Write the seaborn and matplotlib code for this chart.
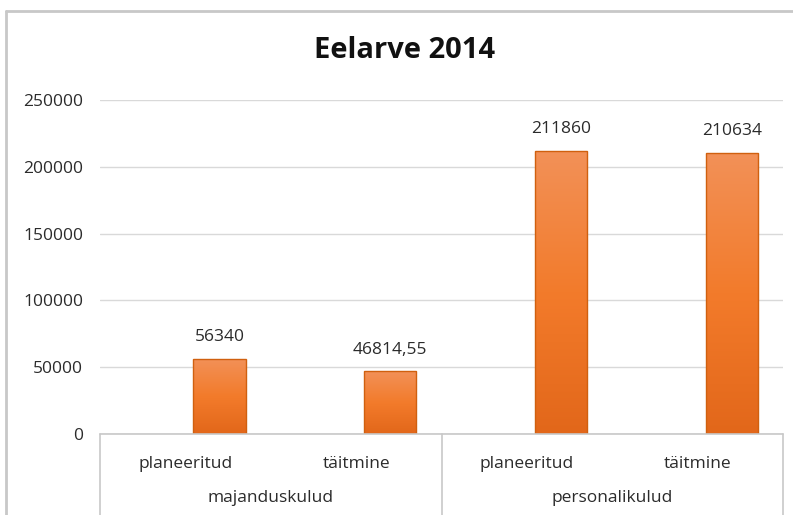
import numpy as np
import pandas as pd
import seaborn as sns
import matplotlib.pyplot as plt
from matplotlib.colors import LinearSegmentedColormap

# andmed
groups = ['majanduskulud', 'majanduskulud', 'personalikulud', 'personalikulud']
items = ['planeeritud', 'täitmine', 'planeeritud', 'täitmine']
values = [56340, 46814.55, 211860, 210634]
group_names = ['majanduskulud', 'personalikulud']

df = pd.DataFrame({'grupp': groups, 'liik': items, 'summa': values})
df['kat'] = df['grupp'] + '|' + df['liik']

sns.set_theme(style='white')
plt.rcParams['font.family'] = ['Open Sans', 'DejaVu Sans']
txt = '#2b2b2b'
grid = '#d9d9d9'

fig = plt.figure(figsize=(7.93, 5.15), dpi=100)
ax = fig.add_axes([100 / 793, 81 / 515, 683 / 793, 334 / 515])

sns.barplot(data=df, x='kat', y='summa', ax=ax, width=0.305,
            color='#f07a2a', edgecolor='#d0600f', linewidth=1.0,
            errorbar=None, zorder=3)

# tulbad veidi paremale nagu Exceli originaalis
for p in ax.patches:
    p.set_x(p.get_x() + 0.2)

# gradient tulpadele
cmap = LinearSegmentedColormap.from_list('or', ['#e2671a', '#f37b2b', '#f29158'])
grad = np.linspace(0, 1, 256).reshape(-1, 1)
for p in ax.patches:
    x0, y0 = p.get_x(), p.get_y()
    im = ax.imshow(grad, cmap=cmap, origin='lower', aspect='auto',
                   extent=[x0, x0 + p.get_width(), y0, y0 + p.get_height()],
                   zorder=3.5)
    im.set_clip_path(p)
    p.set_facecolor('none')
    p.set_zorder(4)

labels = [str(int(v)) if float(v).is_integer() else f'{v:.2f}'.replace('.', ',')
          for v in values]
ax.bar_label(ax.containers[0], labels=labels, padding=10, fontsize=12.5, color=txt)

ax.set_xlim(-0.5, 3.5)
ax.set_ylim(0, 250000)
ax.set_yticks(range(0, 250001, 50000))
ax.set_yticklabels([str(v) for v in range(0, 250001, 50000)], fontsize=12.5, color=txt)
ax.tick_params(axis='y', length=0, pad=12)
ax.yaxis.grid(True, color=grid, linewidth=1)
ax.set_axisbelow(True)
for s in ax.spines.values():
    s.set_visible(False)
ax.set_xticks([])
ax.set_xlabel('')
ax.set_ylabel('')

# mitmetasemeline kategooriatelg
ax.plot([-0.5, 3.5], [0, 0], color='#c8c8c8', lw=1.2, clip_on=False, zorder=5)
for xv in [-0.5, 1.5, 3.5]:
    ax.plot([xv, xv], [0, -0.25], color='#c8c8c8', lw=1.2, clip_on=False,
            transform=ax.get_xaxis_transform())
for i, it in enumerate(items):
    ax.text(i, -0.09, it, transform=ax.get_xaxis_transform(),
            ha='center', va='center', fontsize=12.5, color=txt)
for j, g in enumerate(group_names):
    ax.text(2 * j + 0.5, -0.193, g, transform=ax.get_xaxis_transform(),
            ha='center', va='center', fontsize=12.5, color=txt)

fig.text(405 / 793, 1 - 51 / 515, 'Eelarve 2014', ha='center', va='center',
         fontsize=21, fontweight='bold', color='#111111')

# raami jooned
fig.add_artist(plt.Line2D([6 / 793, 1], [1 - 10.5 / 515] * 2, color='#c8c8c8', lw=2))
fig.add_artist(plt.Line2D([6 / 793] * 2, [0, 1 - 10.5 / 515], color='#c8c8c8', lw=2))

fig.savefig('out.png', dpi=100)
